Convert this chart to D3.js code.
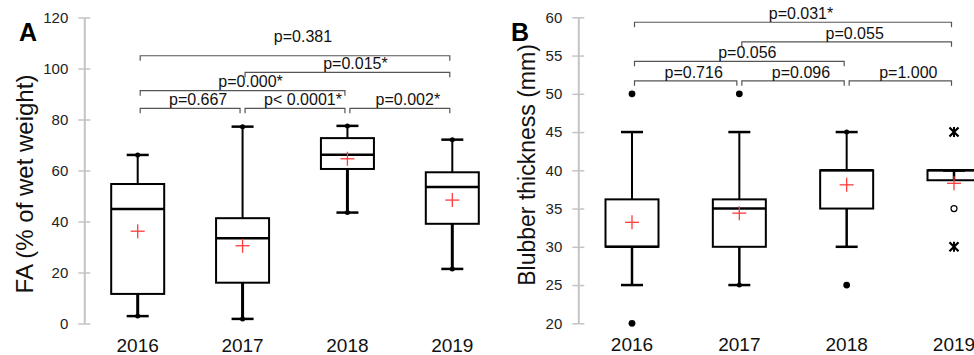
<!DOCTYPE html>
<html><head><meta charset="utf-8">
<script src="https://cdn.jsdelivr.net/npm/d3@7"></script>
<style>html,body{margin:0;padding:0;background:#fff;overflow:hidden}</style>
</head><body>
<svg id="chart" width="974" height="355"></svg>
<script>
// ---------- data ----------
const years = ["2016", "2017", "2018", "2019"];

// Panel A: FA (% of wet weight)
const faMin    = [2.9, 1.8, 43.5, 21.4];
const faQ1     = [11.6, 16.0, 60.6, 39.1];
const faMedian = [44.9, 33.4, 66.2, 53.5];
const faQ3     = [54.7, 41.3, 72.7, 59.3];
const faMax    = [66.1, 77.2, 77.5, 72.1];
const faMean   = [36.2, 30.5, 64.6, 48.4];
const faEndDots = [[2.9, 66.1], [1.8, 77.2], [43.5, 77.5], [21.4, 72.1]];
const faTicks  = [0, 20, 40, 60, 80, 100, 120];
const faPairFrom  = ["2016", "2017", "2016", "2016", "2017", "2018"];
const faPairTo    = ["2019", "2019", "2018", "2017", "2018", "2019"];
const faPairLevel = [105.0, 98.5, 91.3, 84.4, 84.4, 84.4];
const faPairTextLevel = [112.5, 102.0, 95.1, 88.0, 88.0, 88.0];
const faPairLabel = ["p=0.381", "p=0.015*", "p=0.000*", "p=0.667", "p< 0.0001*", "p=0.002*"];

// Panel B: Blubber thickness (mm)
const blMin    = [25, 25, 30, 40];
const blQ1     = [30, 30, 35, 38.7];
const blMedian = [30, 35, 40, 40];
const blQ3     = [36.2, 36.2, 40, 40];
const blMax    = [45, 45, 45, 40];
const blMean   = [33.2, 34.4, 38.1, 38.3];
const blEndDots = [[], [25], [45], []];
const blOutliers = [[50, 20], [50], [25], []];
const blOpenOutliers = [[], [], [], [35]];
const blStarOutliers = [[], [], [], [45, 30]];
const blTicks  = [20, 25, 30, 35, 40, 45, 50, 55, 60];
const blPairFrom  = ["2016", "2017", "2016", "2016", "2017", "2018"];
const blPairTo    = ["2019", "2019", "2018", "2017", "2018", "2019"];
const blPairLevel = [59.35, 56.8, 54.25, 51.7, 51.7, 51.7];
const blPairTextLevel = [60.5, 57.95, 55.4, 52.85, 52.85, 52.85];
const blPairLabel = ["p=0.031*", "p=0.055", "p=0.056", "p=0.716", "p=0.096", "p=1.000"];

// ---------- drawing ----------
const svg = d3.select("#chart");
const FONT = "'Liberation Sans', Arial, sans-serif";

function drawPanel(cfg) {
  const g = svg.append("g");
  const x = d3.scalePoint().domain(years).range(cfg.xRange);
  const y = d3.scaleLinear().domain(cfg.yDomain).range(cfg.yRange);

  // axis
  const axis = d3.axisLeft(y).tickValues(cfg.ticks).tickSizeInner(6).tickSizeOuter(0).tickPadding(10);
  const ag = g.append("g").attr("transform", `translate(${cfg.axisX},0)`).call(axis);
  ag.select(".domain").attr("stroke", "#c4c4c4").attr("stroke-width", 2);
  ag.selectAll(".tick line").attr("x1", 6).attr("stroke", "#c4c4c4").attr("stroke-width", 1.5);
  ag.selectAll(".tick text").attr("font-family", FONT).attr("font-size", 15).attr("fill", "#222");

  // y title
  g.append("text")
    .attr("transform", `translate(${cfg.titleX},${cfg.titleY}) rotate(-90)`)
    .attr("text-anchor", "middle")
    .attr("font-family", FONT).attr("font-size", cfg.titleSize).attr("fill", "#111")
    .text(cfg.title);

  // panel letter
  g.append("text").attr("x", cfg.letterX).attr("y", 41)
    .attr("font-family", FONT).attr("font-size", 25).attr("font-weight", "bold")
    .text(cfg.letter);

  // x labels
  g.selectAll(".xl").data(years).join("text")
    .attr("x", d => x(d)).attr("y", cfg.xLabelY)
    .attr("text-anchor", "middle")
    .attr("font-family", FONT).attr("font-size", 19).attr("fill", "#111")
    .text(d => d);

  const bw = 53, cap = 22;
  years.forEach((yr, i) => {
    const cx = x(yr);
    const bg = g.append("g");
    // whiskers
    bg.append("line").attr("x1", cx).attr("x2", cx)
      .attr("y1", y(cfg.q3[i])).attr("y2", y(cfg.max[i]))
      .attr("stroke", "#000").attr("stroke-width", 2);
    bg.append("line").attr("x1", cx).attr("x2", cx)
      .attr("y1", y(cfg.q1[i])).attr("y2", y(cfg.min[i]))
      .attr("stroke", "#000").attr("stroke-width", cfg.lowW);
    [cfg.max[i], cfg.min[i]].forEach(v => {
      bg.append("line").attr("x1", cx - cap / 2).attr("x2", cx + cap / 2)
        .attr("y1", y(v)).attr("y2", y(v))
        .attr("stroke", "#000").attr("stroke-width", 2.5);
    });
    // box
    bg.append("rect").attr("x", cx - bw / 2).attr("width", bw)
      .attr("y", y(cfg.q3[i])).attr("height", y(cfg.q1[i]) - y(cfg.q3[i]))
      .attr("fill", "none").attr("stroke", "#000").attr("stroke-width", 2);
    bg.append("line").attr("x1", cx - bw / 2).attr("x2", cx + bw / 2)
      .attr("y1", y(cfg.median[i])).attr("y2", y(cfg.median[i]))
      .attr("stroke", "#000").attr("stroke-width", 2.5);
    // whisker end dots
    cfg.endDots[i].forEach(v => {
      bg.append("circle").attr("cx", cx).attr("cy", y(v)).attr("r", 2.5).attr("fill", "#000");
    });
    // outliers
    (cfg.outliers ? cfg.outliers[i] : []).forEach(v => {
      bg.append("circle").attr("cx", cx).attr("cy", y(v)).attr("r", 3.4).attr("fill", "#000");
    });
    (cfg.openOutliers ? cfg.openOutliers[i] : []).forEach(v => {
      bg.append("circle").attr("cx", cx).attr("cy", y(v)).attr("r", 3).attr("fill", "#fff")
        .attr("stroke", "#000").attr("stroke-width", 1.2);
    });
    (cfg.starOutliers ? cfg.starOutliers[i] : []).forEach(v => {
      bg.append("path").attr("transform", `translate(${cx},${y(v)})`)
        .attr("d", d3.symbol(d3.symbolTimes, 55)())
        .attr("fill", "none").attr("stroke", "#000").attr("stroke-width", 2.2);
      bg.append("line").attr("x1", cx).attr("x2", cx).attr("y1", y(v) - 5).attr("y2", y(v) + 5)
        .attr("stroke", "#000").attr("stroke-width", 2);
    });
    // mean
    const my = y(cfg.mean[i]);
    bg.append("line").attr("x1", cx - 7).attr("x2", cx + 7).attr("y1", my).attr("y2", my)
      .attr("stroke", "#ff3b3b").attr("stroke-width", 1.3);
    bg.append("line").attr("x1", cx).attr("x2", cx).attr("y1", my - 7).attr("y2", my + 7)
      .attr("stroke", "#ff3b3b").attr("stroke-width", 1.3);
  });

  // significance brackets
  cfg.pairFrom.forEach((f, i) => {
    const x1 = x(f) + 2.5, x2 = x(cfg.pairTo[i]) - 2.5, by = y(cfg.pairLevel[i]);
    g.append("path")
      .attr("d", `M${x1},${by + 5}V${by}H${x2}V${by + 5}`)
      .attr("fill", "none").attr("stroke", "#555").attr("stroke-width", 1.2);
    g.append("text")
      .attr("x", (x1 + x2) / 2 + 8).attr("y", y(cfg.pairTextLevel[i]))
      .attr("dy", "0.35em")
      .attr("text-anchor", "middle")
      .attr("font-family", FONT).attr("font-size", 16).attr("fill", "#111")
      .text(cfg.pairLabel[i]);
  });
}

drawPanel({
  xRange: [137.7, 452.3], yDomain: [0, 120], yRange: [323.5, 17.5], axisX: 84.3,
  ticks: faTicks, title: "FA (% of wet weight)", titleSize: 24, titleX: 32.5, titleY: 184,
  letter: "A", letterX: 19, xLabelY: 352,
  min: faMin, q1: faQ1, median: faMedian, q3: faQ3, max: faMax, mean: faMean,
  endDots: faEndDots, lowW: 3,
  pairFrom: faPairFrom, pairTo: faPairTo, pairLevel: faPairLevel,
  pairTextLevel: faPairTextLevel, pairLabel: faPairLabel
});

drawPanel({
  xRange: [632, 954], yDomain: [20, 60], yRange: [323.3, 17.3], axisX: 578.3,
  ticks: blTicks, title: "Blubber thickness (mm)", titleSize: 23, titleX: 535, titleY: 165,
  letter: "B", letterX: 511, xLabelY: 351,
  min: blMin, q1: blQ1, median: blMedian, q3: blQ3, max: blMax, mean: blMean,
  endDots: blEndDots, outliers: blOutliers, openOutliers: blOpenOutliers,
  starOutliers: blStarOutliers, lowW: 2.5,
  pairFrom: blPairFrom, pairTo: blPairTo, pairLevel: blPairLevel,
  pairTextLevel: blPairTextLevel, pairLabel: blPairLabel
});
</script>
</body></html>
